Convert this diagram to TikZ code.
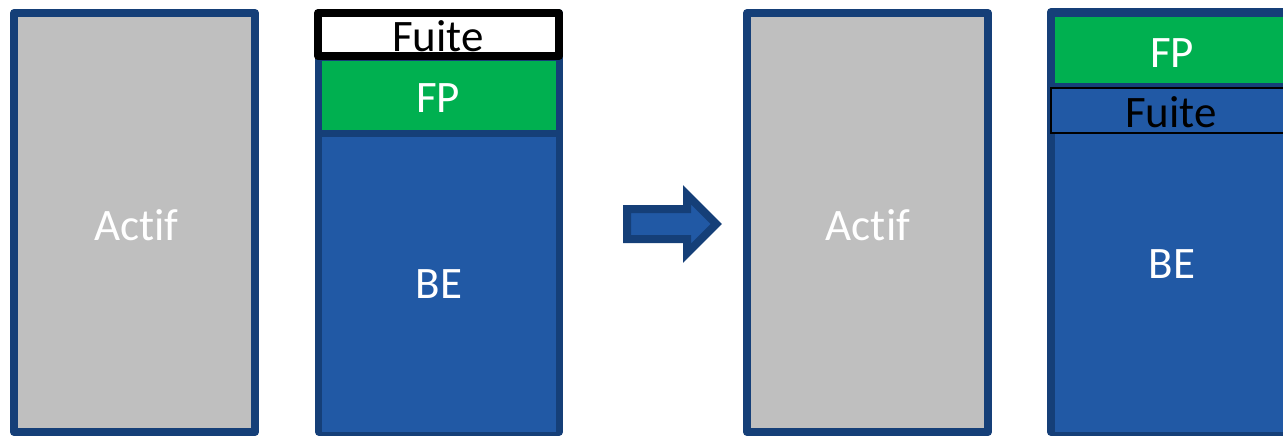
\documentclass[tikz,border=0pt]{standalone}
\usepackage{fontspec}
\setmainfont{Carlito}[Ligatures={NoCommon,NoRare,NoContextual}, RawFeature={-liga;-clig;-dlig}]
\definecolor{bord}{HTML}{153F78}
\definecolor{bfill}{HTML}{2159A5}
\definecolor{gfill}{HTML}{BFBFBF}
\definecolor{green}{HTML}{00B050}
\tikzset{
  col/.style={draw=bord, line width=8pt, line join=round},
  lbl/.style={anchor=base, inner sep=0pt, font=\fontsize{45}{54}\selectfont, text=white},
  lblk/.style={lbl, text=black},
}
\begin{document}
\begin{tikzpicture}[x=1pt,y=-1pt]
\useasboundingbox (0,0) rectangle (1283,436);
\begin{scope}
\clip (0,0) rectangle (1283,436);
% column 1
\path[col, fill=gfill] (14,13) rectangle (255,432);
\node[lbl] (actif1) at (136.5,240) {Actif};
% column 2
\path[col, fill=bord] (319,13) rectangle (559,432);
\fill[green] (322,61) rectangle (556,130);
\fill[bfill] (322,137) rectangle (556,432);
\path[draw=black, line width=8pt, line join=round, fill=white] (318,13) rectangle (559,56);
\node[lblk] (fuite1) at (438,52) {Fuite};
\node[lbl] (fp1) at (438,112) {FP};
\node[lbl] (be1) at (439,298) {BE};
% arrow
\path[draw=bord, fill=bfill, line width=8pt, line join=miter]
  (627,209) -- (687,209) -- (687,194.7) -- (716.3,224) -- (687,253.3) -- (687,239) -- (627,239) -- cycle;
% column 4
\path[col, fill=gfill] (747,13) rectangle (988,432);
\node[lbl] (actif2) at (868,240) {Actif};
% column 5
\path[col, fill=bord] (1051,12) rectangle (1292,432);
\fill[green] (1055,17) rectangle (1288,83);
\fill[bfill] (1055,88) rectangle (1288,432);
\path[draw=black, line width=2.5pt, fill=bfill] (1051.2,88.2) rectangle (1300,132.8);
\node[lbl] (fp2) at (1172,67) {FP};
\node[lblk] (fuite2) at (1171,127) {Fuite};
\node[lbl] (be2) at (1172,278) {BE};
\end{scope}
\end{tikzpicture}
\end{document}
